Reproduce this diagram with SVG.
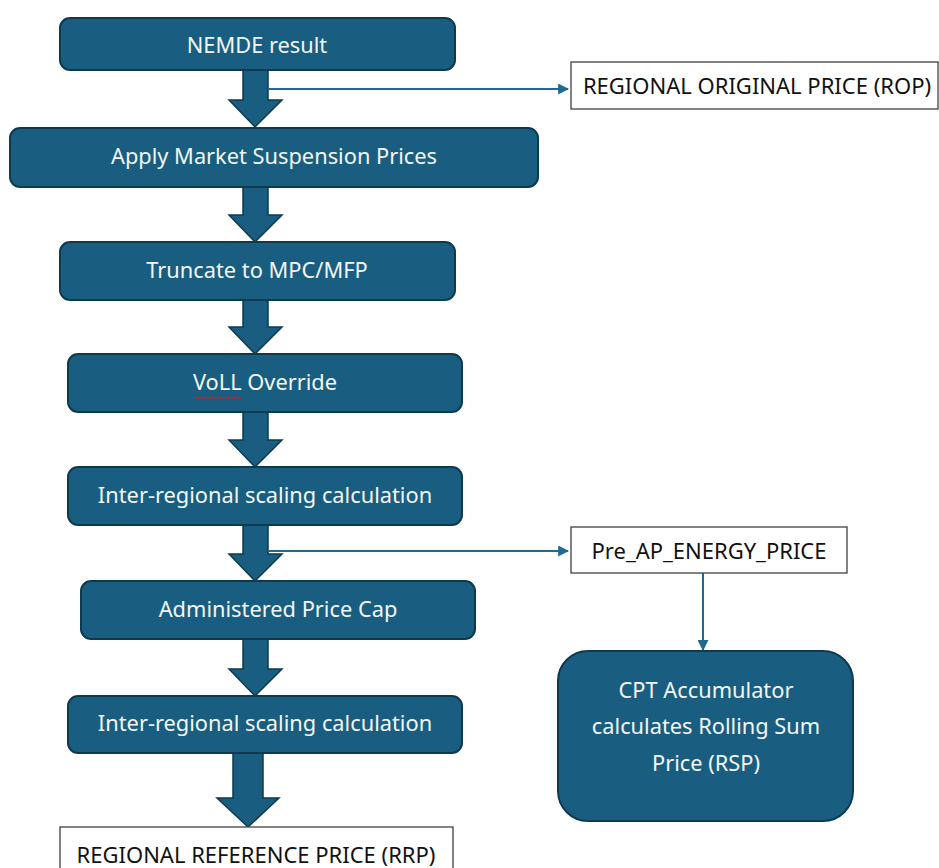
<svg xmlns="http://www.w3.org/2000/svg" width="939" height="868" viewBox="0 0 939 868">
<style>
.box{fill:#195e80;stroke:#0e3a4f;stroke-width:2}
.blk{fill:#195e80;stroke:#0e3a4f;stroke-width:1.5;stroke-linejoin:miter}
.out{fill:#ffffff;stroke:#404040;stroke-width:1.3}
.wt{font-family:"Noto Sans","Open Sans",sans-serif;font-size:21.8px;fill:#f2f6f8;text-anchor:middle}
.bt{font-family:"Noto Sans","Open Sans",sans-serif;font-size:22px;fill:#111111;text-anchor:middle}
.thin{stroke:#1f6a8e;stroke-width:2;fill:none}
</style>
<defs>
<marker id="ah" viewBox="0 0 10 10" refX="9" refY="5" markerWidth="5.5" markerHeight="5.5" orient="auto" markerUnits="strokeWidth">
<path d="M0,0 L10,5 L0,10 z" fill="#1f6a8e"/>
</marker>
</defs>
<rect width="939" height="868" fill="#ffffff"/>
<g id="connectors">
<path class="blk" d="M243,70 H268 V100 H282 L255,127 L229,100 H243 Z"/>
<path class="blk" d="M243,187 H268 V215 H282 L255,242 L229,215 H243 Z"/>
<path class="blk" d="M243,300 H268 V327 H282 L255,354 L229,327 H243 Z"/>
<path class="blk" d="M243,412 H268 V440 H282 L255,467 L229,440 H243 Z"/>
<path class="blk" d="M243,525 H268 V554 H282 L255,581 L229,554 H243 Z"/>
<path class="blk" d="M243,639 H268 V669 H282 L255,696 L229,669 H243 Z"/>
<path class="blk" d="M233,753 H263 V798 H279 L248,827 L217,798 H233 Z"/>
<line class="thin" x1="268" y1="89" x2="568" y2="89" marker-end="url(#ah)"/>
<line class="thin" x1="268" y1="551" x2="568" y2="551" marker-end="url(#ah)"/>
<line class="thin" x1="703" y1="573" x2="703" y2="650" marker-end="url(#ah)"/>
</g>
<g id="nemde"><rect class="box" x="60" y="18" width="395" height="52" rx="10"/><text class="wt" x="257" y="53">NEMDE result</text></g>
<g id="suspension"><rect class="box" x="10" y="128" width="528" height="59" rx="10"/><text class="wt" x="274" y="164">Apply Market Suspension Prices</text></g>
<g id="truncate"><rect class="box" x="60" y="242" width="395" height="58" rx="10"/><text class="wt" x="257" y="278">Truncate to MPC/MFP</text></g>
<g id="voll"><rect class="box" x="68" y="354" width="394" height="58" rx="10"/><text class="wt" x="265" y="390">VoLL Override</text>
<path d="M193,398 q1.5,-2 3,0 t3,0 t3,0 t3,0 t3,0 t3,0 t3,0 t3,0 t3,0 t3,0 t3,0 t3,0 t3,0 t3,0 t3,0 t3,0" fill="none" stroke="#d02020" stroke-width="1"/></g>
<g id="scaling1"><rect class="box" x="68" y="467" width="394" height="58" rx="10"/><text class="wt" x="265" y="503">Inter-regional scaling calculation</text></g>
<g id="apc"><rect class="box" x="81" y="581" width="394" height="58" rx="10"/><text class="wt" x="278" y="617">Administered Price Cap</text></g>
<g id="scaling2"><rect class="box" x="68" y="696" width="394" height="57" rx="10"/><text class="wt" x="265" y="731">Inter-regional scaling calculation</text></g>
<g id="rrp"><rect class="out" x="60" y="827" width="393" height="50"/><text class="bt" x="256" y="863">REGIONAL REFERENCE PRICE (RRP)</text></g>
<g id="rop"><rect class="out" x="571" y="62" width="367" height="47"/><text class="bt" x="757" y="94">REGIONAL ORIGINAL PRICE (ROP)</text></g>
<g id="preap"><rect class="out" x="571" y="527" width="276" height="46"/><text class="bt" x="709" y="559">Pre_AP_ENERGY_PRICE</text></g>
<g id="cpt"><rect class="box" x="558" y="651" width="295" height="170" rx="30"/>
<text class="wt" x="706" y="698">CPT Accumulator</text>
<text class="wt" x="706" y="734">calculates Rolling Sum</text>
<text class="wt" x="706" y="771">Price (RSP)</text></g>
</svg>
